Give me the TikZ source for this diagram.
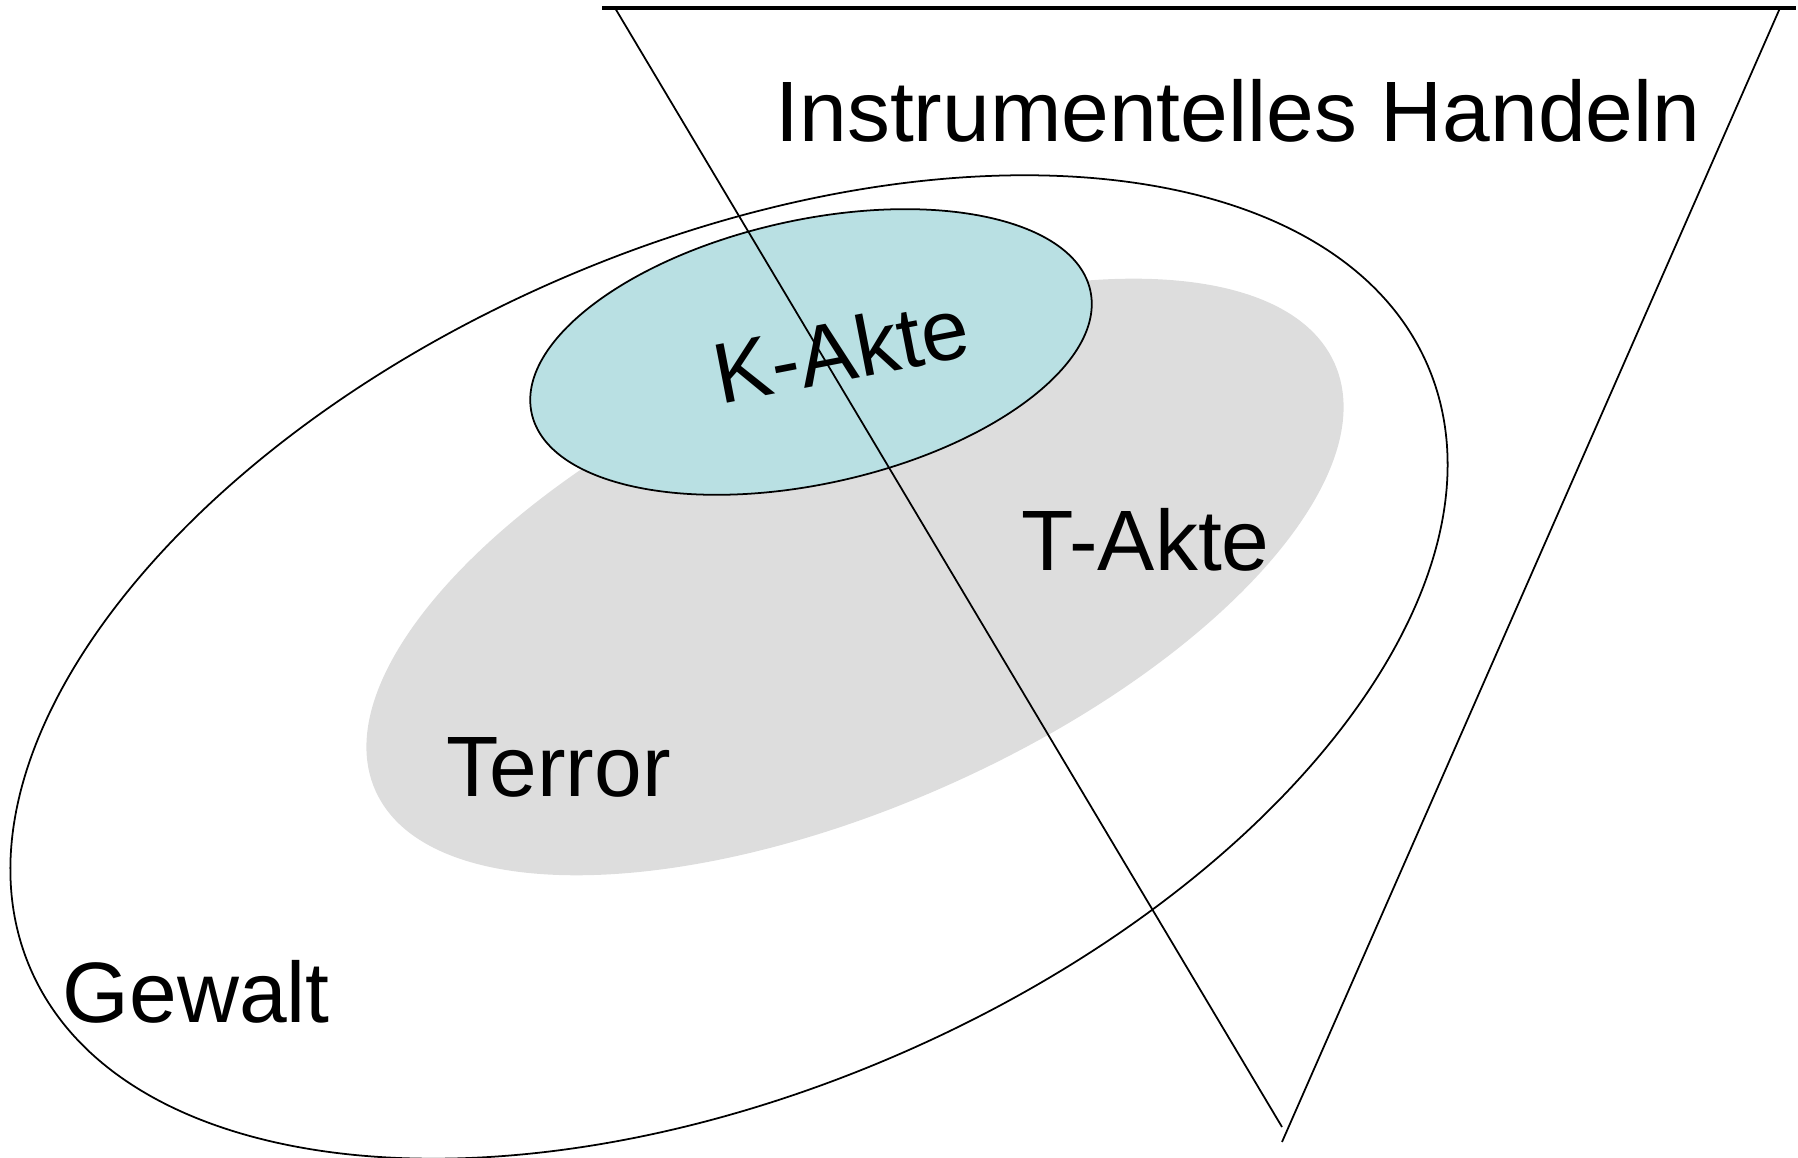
\documentclass[tikz,border=0pt]{standalone}
\usepackage{fontspec}
\setmainfont{Liberation Sans}
\definecolor{kakte}{HTML}{B9E0E3}
\definecolor{takte}{HTML}{DDDDDD}
\begin{document}
\begin{tikzpicture}[label/.style={font=\fontsize{24.4}{28}\selectfont, inner sep=0pt}, rim/.style={draw=black, line width=0.5pt}]
    % picture frame
    \useasboundingbox (0,0) rectangle (17.98,11.58);
    % T-Akte (Terror)
    \fill[takte, rotate around={24:(8.55,5.81)}] (8.55,5.81) ellipse (5.25 and 2.28);
    % Gewalt
    \draw[rim, rotate around={23.35:(7.29,4.91)}] (7.29,4.91) ellipse (7.61 and 4.23);
    % K-Akte
    \draw[rim, fill=kakte, rotate around={12.4:(8.11,8.06)}] (8.11,8.06) ellipse (2.86 and 1.32);
    % Instrumentelles Handeln
    \coordinate (topL) at (6.02,11.50);
    \coordinate (topR) at (17.96,11.50);
    \coordinate (legL) at (6.15,11.50);
    \coordinate (legR) at (17.80,11.50);
    \coordinate (tipL) at (12.82,0.31);
    \coordinate (tipR) at (12.82,0.16);
    \draw[line width=1pt] (topL) -- (topR);
    \draw[rim] (legL) -- (tipL);
    \draw[rim] (legR) -- (tipR);
    % labels
    \node[label, anchor=base] (handeln) at (12.38,10.16) {Instrumentelles Handeln};
    \node[label, anchor=base west] (gewalt) at (0.62,1.35) {Gewalt};
    \node[label, anchor=base west] (terror) at (4.46,3.61) {Terror};
    \node[label, anchor=base west] (takte) at (10.21,5.87) {T-Akte};
    \node[label, anchor=base, rotate=11] (kakte) at (8.47,7.78) {K-Akte};
\end{tikzpicture}
\end{document}
